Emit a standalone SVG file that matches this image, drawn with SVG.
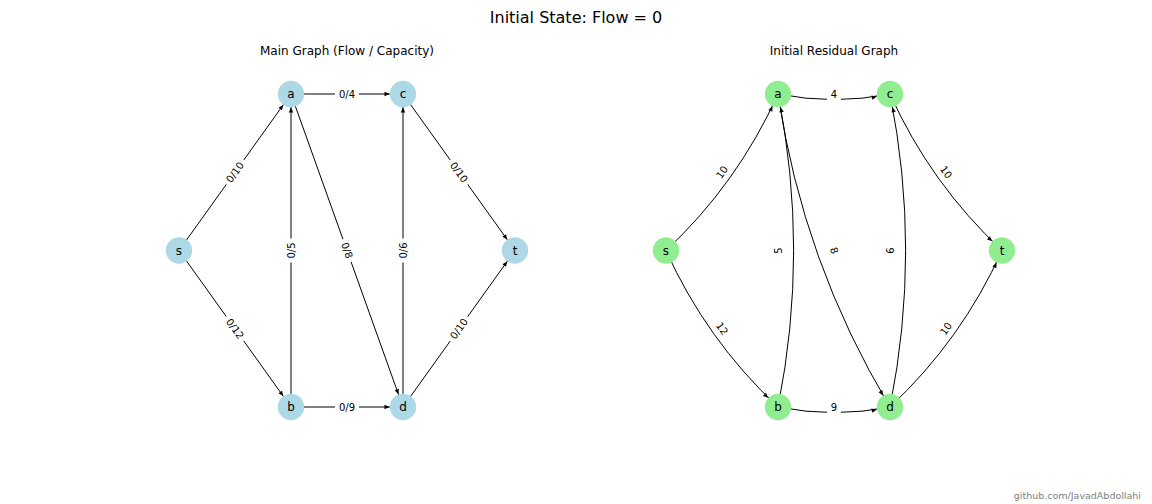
<svg xmlns="http://www.w3.org/2000/svg" width="1152" height="504" viewBox="0 0 1152 504">
<style>
  text { font-family: "DejaVu Sans", "Liberation Sans", sans-serif; fill: #000; }
  .title { font-size: 16px; text-anchor: middle; }
  .sub { font-size: 12px; text-anchor: middle; }
  .nl { font-size: 12px; text-anchor: middle; dominant-baseline: central; }
  .el { font-size: 10px; text-anchor: middle; dominant-baseline: central; }
  .lb { fill: #fff; stroke: none; }
  .edge { fill: none; stroke: #000; stroke-width: 1; marker-end: url(#ah); }
  .nb { fill: #ADD8E6; }
  .ng { fill: #90EE90; }
  .wm { font-family: "DejaVu Sans", sans-serif; font-size: 9.5px; fill: #808080; text-anchor: end; }
</style>
<defs>
  <marker id="ah" markerUnits="userSpaceOnUse" markerWidth="20" markerHeight="10" refX="13.5" refY="0" orient="auto" overflow="visible">
    <path d="M0,0 L-5,-2.2 L-5,2.2 Z" fill="#000"/>
  </marker>
</defs>
<rect width="1152" height="504" fill="#fff"/>

<text class="title" x="576" y="22.5">Initial State: Flow = 0</text>
<text class="sub" x="347" y="54.5">Main Graph (Flow / Capacity)</text>
<text class="sub" x="834" y="54.5">Initial Residual Graph</text>

<g id="connectors">
  <!-- left main graph -->
  <path class="edge" d="M179,250.5 L291,94"/>
  <path class="edge" d="M179,250.5 L291,407"/>
  <path class="edge" d="M291,94 L403,94"/>
  <path class="edge" d="M291,94 L403,407"/>
  <path class="edge" d="M291,407 L291,94"/>
  <path class="edge" d="M291,407 L403,407"/>
  <path class="edge" d="M403,94 L515,250.5"/>
  <path class="edge" d="M403,407 L403,94"/>
  <path class="edge" d="M403,407 L515,250.5"/>
  <!-- right residual graph -->
  <path class="edge" d="M666,250.5 Q737.65,183.45 778,94"/>
  <path class="edge" d="M666,250.5 Q706.35,339.95 778,407"/>
  <path class="edge" d="M778,94 Q834,105.2 890,94"/>
  <path class="edge" d="M778,94 Q802.7,261.7 890,407"/>
  <path class="edge" d="M778,407 Q809.3,250.5 778,94"/>
  <path class="edge" d="M778,407 Q834,418.2 890,407"/>
  <path class="edge" d="M890,94 Q930.35,183.45 1002,250.5"/>
  <path class="edge" d="M890,407 Q921.3,250.5 890,94"/>
  <path class="edge" d="M890,407 Q961.65,339.95 1002,250.5"/>
</g>

<g id="edge-labels">
  <g transform="translate(235,172.25) rotate(-54.4)"><rect class="lb" x="-15" y="-8" width="30" height="16" rx="3"/><text class="el">0/10</text></g>
  <g transform="translate(235,328.75) rotate(54.4)"><rect class="lb" x="-15" y="-8" width="30" height="16" rx="3"/><text class="el">0/12</text></g>
  <g transform="translate(347,94)"><rect class="lb" x="-12" y="-8" width="24" height="16" rx="3"/><text class="el">0/4</text></g>
  <g transform="translate(347,250.5) rotate(70.3)"><rect class="lb" x="-12" y="-8" width="24" height="16" rx="3"/><text class="el">0/8</text></g>
  <g transform="translate(291,250.5) rotate(-90)"><rect class="lb" x="-12" y="-8" width="24" height="16" rx="3"/><text class="el">0/5</text></g>
  <g transform="translate(347,407)"><rect class="lb" x="-12" y="-8" width="24" height="16" rx="3"/><text class="el">0/9</text></g>
  <g transform="translate(459,172.25) rotate(54.4)"><rect class="lb" x="-15" y="-8" width="30" height="16" rx="3"/><text class="el">0/10</text></g>
  <g transform="translate(403,250.5) rotate(-90)"><rect class="lb" x="-12" y="-8" width="24" height="16" rx="3"/><text class="el">0/6</text></g>
  <g transform="translate(459,328.75) rotate(-54.4)"><rect class="lb" x="-15" y="-8" width="30" height="16" rx="3"/><text class="el">0/10</text></g>

  <g transform="translate(722,172.25) rotate(-54.4)"><rect class="lb" x="-10" y="-8" width="20" height="16" rx="3"/><text class="el">10</text></g>
  <g transform="translate(722,328.75) rotate(54.4)"><rect class="lb" x="-10" y="-8" width="20" height="16" rx="3"/><text class="el">12</text></g>
  <g transform="translate(834,94)"><rect class="lb" x="-7" y="-8" width="14" height="16" rx="3"/><text class="el">4</text></g>
  <g transform="translate(834,250.5) rotate(70.3)"><rect class="lb" x="-7" y="-8" width="14" height="16" rx="3"/><text class="el">8</text></g>
  <g transform="translate(778,250.5) rotate(-90)"><rect class="lb" x="-7" y="-8" width="14" height="16" rx="3"/><text class="el">5</text></g>
  <g transform="translate(834,407)"><rect class="lb" x="-7" y="-8" width="14" height="16" rx="3"/><text class="el">9</text></g>
  <g transform="translate(946,172.25) rotate(54.4)"><rect class="lb" x="-10" y="-8" width="20" height="16" rx="3"/><text class="el">10</text></g>
  <g transform="translate(890,250.5) rotate(-90)"><rect class="lb" x="-7" y="-8" width="14" height="16" rx="3"/><text class="el">6</text></g>
  <g transform="translate(946,328.75) rotate(-54.4)"><rect class="lb" x="-10" y="-8" width="20" height="16" rx="3"/><text class="el">10</text></g>
</g>

<g id="main-s"><circle class="nb" cx="179" cy="250.5" r="13.2"/><text class="nl" x="179" y="250.5">s</text></g>
<g id="main-a"><circle class="nb" cx="291" cy="94" r="13.2"/><text class="nl" x="291" y="94">a</text></g>
<g id="main-c"><circle class="nb" cx="403" cy="94" r="13.2"/><text class="nl" x="403" y="94">c</text></g>
<g id="main-t"><circle class="nb" cx="515" cy="250.5" r="13.2"/><text class="nl" x="515" y="250.5">t</text></g>
<g id="main-b"><circle class="nb" cx="291" cy="407" r="13.2"/><text class="nl" x="291" y="407">b</text></g>
<g id="main-d"><circle class="nb" cx="403" cy="407" r="13.2"/><text class="nl" x="403" y="407">d</text></g>

<g id="res-s"><circle class="ng" cx="666" cy="250.5" r="13.2"/><text class="nl" x="666" y="250.5">s</text></g>
<g id="res-a"><circle class="ng" cx="778" cy="94" r="13.2"/><text class="nl" x="778" y="94">a</text></g>
<g id="res-c"><circle class="ng" cx="890" cy="94" r="13.2"/><text class="nl" x="890" y="94">c</text></g>
<g id="res-t"><circle class="ng" cx="1002" cy="250.5" r="13.2"/><text class="nl" x="1002" y="250.5">t</text></g>
<g id="res-b"><circle class="ng" cx="778" cy="407" r="13.2"/><text class="nl" x="778" y="407">b</text></g>
<g id="res-d"><circle class="ng" cx="890" cy="407" r="13.2"/><text class="nl" x="890" y="407">d</text></g>

<text class="wm" x="1141" y="499">github.com/JavadAbdollahi</text>
</svg>
